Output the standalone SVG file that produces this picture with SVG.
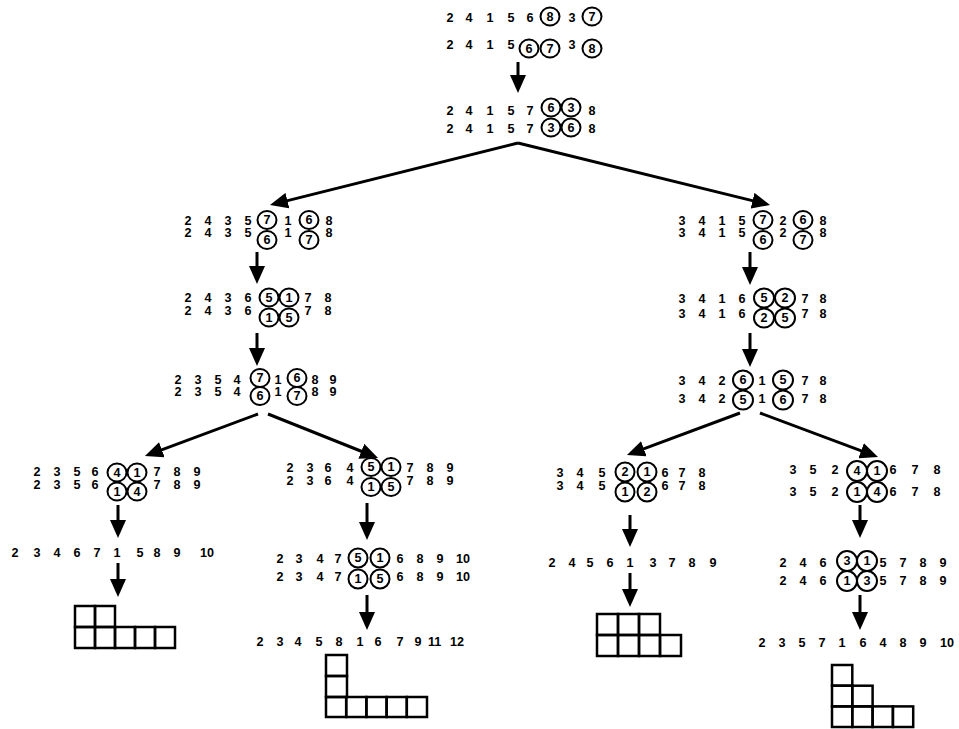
<svg xmlns="http://www.w3.org/2000/svg" width="959" height="729" viewBox="0 0 959 729">
<defs>
<style>
.d{font-family:"Liberation Sans",Arial,sans-serif;font-weight:bold;font-size:12.6px;fill:#000}
.c{fill:none;stroke:#000;stroke-width:2}
.a{stroke:#000;stroke-width:3;fill:none;marker-end:url(#ah)}
.b{fill:none;stroke:#000;stroke-width:2.5}
</style>
<marker id="ah" markerUnits="userSpaceOnUse" markerWidth="18" markerHeight="16" refX="6" refY="8" orient="auto"><path d="M0,0 L18,8 L0,16 Z" fill="#000"/></marker>
</defs>
<rect width="959" height="729" fill="#fff"/>

<g id="top-a">
<text class="d" y="22"><tspan x="446.5">2</tspan> <tspan x="465.5">4</tspan> <tspan x="486.5">1</tspan> <tspan x="507.5">5</tspan> <tspan x="526.5">6</tspan> <tspan x="546.5" y="20.8">8</tspan> <tspan x="568.5" y="22">3</tspan> <tspan x="588.5" y="20.8">7</tspan></text>
<ellipse class="c" cx="550" cy="16.5" rx="9.5" ry="9"/><ellipse class="c" cx="592" cy="16.5" rx="9.5" ry="9"/>
<text class="d" y="49"><tspan x="446.5">2</tspan> <tspan x="465.5">4</tspan> <tspan x="486.5">1</tspan> <tspan x="507.5">5</tspan> <tspan x="525.5" y="52.8">6</tspan> <tspan x="546.5">7</tspan> <tspan x="568.5" y="49">3</tspan> <tspan x="588.5" y="52.8">8</tspan></text>
<ellipse class="c" cx="529" cy="48.5" rx="9.5" ry="9"/><ellipse class="c" cx="550" cy="48.5" rx="9.5" ry="9"/><ellipse class="c" cx="592" cy="48.5" rx="9.5" ry="9"/>
</g>

<g id="top-b">
<text class="d" y="115"><tspan x="446.5">2</tspan> <tspan x="465.5">4</tspan> <tspan x="486.5">1</tspan> <tspan x="507.5">5</tspan> <tspan x="526.5">7</tspan> <tspan x="547.5" y="111.8">6</tspan> <tspan x="567.5">3</tspan> <tspan x="588.5" y="115">8</tspan></text>
<ellipse class="c" cx="551" cy="107.5" rx="9.5" ry="9"/><ellipse class="c" cx="571" cy="107.5" rx="9.5" ry="9"/>
<text class="d" y="133"><tspan x="446.5">2</tspan> <tspan x="465.5">4</tspan> <tspan x="486.5">1</tspan> <tspan x="507.5">5</tspan> <tspan x="526.5">7</tspan> <tspan x="547.5" y="131.8">3</tspan> <tspan x="567.5">6</tspan> <tspan x="588.5" y="133">8</tspan></text>
<ellipse class="c" cx="551" cy="127.5" rx="9.5" ry="9"/><ellipse class="c" cx="571" cy="127.5" rx="9.5" ry="9"/>
</g>

<g id="left-a">
<text class="d" y="225"><tspan x="184.5">2</tspan> <tspan x="204.5">4</tspan> <tspan x="224.5">3</tspan> <tspan x="244.5">5</tspan> <tspan x="263.5" y="224.3">7</tspan> <tspan x="284.5" y="225">1</tspan> <tspan x="305.5" y="224.3">6</tspan> <tspan x="325.5" y="225">8</tspan></text>
<ellipse class="c" cx="267" cy="220" rx="9.5" ry="9"/><ellipse class="c" cx="309" cy="220" rx="9.5" ry="9"/>
<text class="d" y="237"><tspan x="184.5">2</tspan> <tspan x="204.5">4</tspan> <tspan x="224.5">3</tspan> <tspan x="244.5">5</tspan> <tspan x="263.5" y="244.3">6</tspan> <tspan x="284.5" y="237">1</tspan> <tspan x="305.5" y="244.3">7</tspan> <tspan x="325.5" y="237">8</tspan></text>
<ellipse class="c" cx="267" cy="240" rx="9.5" ry="9"/><ellipse class="c" cx="309" cy="240" rx="9.5" ry="9"/>
</g>

<g id="left-b">
<text class="d" y="302"><tspan x="184.5">2</tspan> <tspan x="204.5">4</tspan> <tspan x="224.5">3</tspan> <tspan x="244.5">6</tspan> <tspan x="265.5" y="301.8">5</tspan> <tspan x="285.5">1</tspan> <tspan x="304.5" y="302">7</tspan> <tspan x="324.5">8</tspan></text>
<ellipse class="c" cx="269" cy="297.5" rx="9.5" ry="9"/><ellipse class="c" cx="289" cy="297.5" rx="9.5" ry="9"/>
<text class="d" y="315"><tspan x="184.5">2</tspan> <tspan x="204.5">4</tspan> <tspan x="224.5">3</tspan> <tspan x="244.5">6</tspan> <tspan x="265.5" y="321.8">1</tspan> <tspan x="285.5">5</tspan> <tspan x="304.5" y="315">7</tspan> <tspan x="324.5">8</tspan></text>
<ellipse class="c" cx="269" cy="317.5" rx="9.5" ry="9"/><ellipse class="c" cx="289" cy="317.5" rx="9.5" ry="9"/>
</g>

<g id="left-c">
<text class="d" y="384"><tspan x="174.5">2</tspan> <tspan x="194.5">3</tspan> <tspan x="214.5">5</tspan> <tspan x="233.5">4</tspan> <tspan x="256.5" y="382.3">7</tspan> <tspan x="274.5" y="384">1</tspan> <tspan x="293.5" y="382.3">6</tspan> <tspan x="311.5" y="384">8</tspan> <tspan x="329.5">9</tspan></text>
<ellipse class="c" cx="260" cy="378" rx="9.5" ry="9"/><ellipse class="c" cx="297" cy="378" rx="9.5" ry="9"/>
<text class="d" y="396"><tspan x="174.5">2</tspan> <tspan x="194.5">3</tspan> <tspan x="214.5">5</tspan> <tspan x="233.5">4</tspan> <tspan x="256.5" y="400.3">6</tspan> <tspan x="274.5" y="396">1</tspan> <tspan x="293.5" y="400.3">7</tspan> <tspan x="311.5" y="396">8</tspan> <tspan x="329.5">9</tspan></text>
<ellipse class="c" cx="260" cy="396" rx="9.5" ry="9"/><ellipse class="c" cx="297" cy="396" rx="9.5" ry="9"/>
</g>

<g id="ll-a">
<text class="d" y="476"><tspan x="33.5">2</tspan> <tspan x="53.5">3</tspan> <tspan x="73.5">5</tspan> <tspan x="91.5">6</tspan> <tspan x="113.5" y="476.8">4</tspan> <tspan x="133.5">1</tspan> <tspan x="153.5" y="476">7</tspan> <tspan x="173.5">8</tspan> <tspan x="193.5">9</tspan></text>
<ellipse class="c" cx="117" cy="472.5" rx="9.5" ry="9"/><ellipse class="c" cx="137" cy="472.5" rx="9.5" ry="9"/>
<text class="d" y="489"><tspan x="33.5">2</tspan> <tspan x="53.5">3</tspan> <tspan x="73.5">5</tspan> <tspan x="91.5">6</tspan> <tspan x="113.5" y="495.8">1</tspan> <tspan x="133.5">4</tspan> <tspan x="153.5" y="489">7</tspan> <tspan x="173.5">8</tspan> <tspan x="193.5">9</tspan></text>
<ellipse class="c" cx="117" cy="491.5" rx="9.5" ry="9"/><ellipse class="c" cx="137" cy="491.5" rx="9.5" ry="9"/>
</g>

<g id="ll-b">
<text class="d" y="557"><tspan x="11.5">2</tspan> <tspan x="33.5">3</tspan> <tspan x="53.5">4</tspan> <tspan x="73.5">6</tspan> <tspan x="93.5">7</tspan> <tspan x="113.5">1</tspan> <tspan x="136.5">5</tspan> <tspan x="153.5">8</tspan> <tspan x="173.5">9</tspan> <tspan x="200">10</tspan></text>
</g>

<g id="ll-shape">
<rect class="b" x="75" y="606" width="20" height="21"/><rect class="b" x="95" y="606" width="20" height="21"/>
<rect class="b" x="75" y="627" width="20" height="21"/><rect class="b" x="95" y="627" width="20" height="21"/><rect class="b" x="115" y="627" width="20" height="21"/><rect class="b" x="135" y="627" width="20" height="21"/><rect class="b" x="155" y="627" width="20" height="21"/>
</g>

<g id="lr-a">
<text class="d" y="472"><tspan x="286.5">2</tspan> <tspan x="306.5">3</tspan> <tspan x="324.5">6</tspan> <tspan x="346.5">4</tspan> <tspan x="367.5" y="471.3">5</tspan> <tspan x="387.5">1</tspan> <tspan x="406.5" y="472">7</tspan> <tspan x="426.5">8</tspan> <tspan x="446.5">9</tspan></text>
<ellipse class="c" cx="371" cy="467" rx="9.5" ry="9"/><ellipse class="c" cx="391" cy="467" rx="9.5" ry="9"/>
<text class="d" y="485"><tspan x="286.5">2</tspan> <tspan x="306.5">3</tspan> <tspan x="324.5">6</tspan> <tspan x="346.5">4</tspan> <tspan x="367.5" y="491.3">1</tspan> <tspan x="387.5">5</tspan> <tspan x="406.5" y="485">7</tspan> <tspan x="426.5">8</tspan> <tspan x="446.5">9</tspan></text>
<ellipse class="c" cx="371" cy="487" rx="9.5" ry="9"/><ellipse class="c" cx="391" cy="487" rx="9.5" ry="9"/>
</g>

<g id="lr-b">
<text class="d" y="563"><tspan x="276.5">2</tspan> <tspan x="295.5">3</tspan> <tspan x="316.5">4</tspan> <tspan x="334.5">7</tspan> <tspan x="354.5" y="562.3">5</tspan> <tspan x="376.5">1</tspan> <tspan x="396.5" y="563">6</tspan> <tspan x="416.5">8</tspan> <tspan x="436.5">9</tspan> <tspan x="456">10</tspan></text>
<ellipse class="c" cx="358" cy="558" rx="9.5" ry="9.5"/><ellipse class="c" cx="380" cy="558" rx="9.5" ry="9.5"/>
<text class="d" y="581"><tspan x="276.5">2</tspan> <tspan x="295.5">3</tspan> <tspan x="316.5">4</tspan> <tspan x="334.5">7</tspan> <tspan x="354.5" y="583.3">1</tspan> <tspan x="376.5">5</tspan> <tspan x="396.5" y="581">6</tspan> <tspan x="416.5">8</tspan> <tspan x="436.5">9</tspan> <tspan x="456">10</tspan></text>
<ellipse class="c" cx="358" cy="579" rx="9.5" ry="9.5"/><ellipse class="c" cx="380" cy="579" rx="9.5" ry="9.5"/>
</g>

<g id="lr-c">
<text class="d" y="646"><tspan x="256.5">2</tspan> <tspan x="276.5">3</tspan> <tspan x="294.5">4</tspan> <tspan x="315.5">5</tspan> <tspan x="335.5">8</tspan> <tspan x="356.5">1</tspan> <tspan x="374.5">6</tspan> <tspan x="396.5">7</tspan> <tspan x="414.5">9</tspan> <tspan x="428">11</tspan> <tspan x="450">12</tspan></text>
</g>

<g id="lr-shape">
<rect class="b" x="326" y="655" width="21" height="21"/><rect class="b" x="326" y="676" width="21" height="21"/>
<rect class="b" x="326" y="697" width="20.2" height="20"/><rect class="b" x="346.2" y="697" width="20.2" height="20"/><rect class="b" x="366.4" y="697" width="20.2" height="20"/><rect class="b" x="386.6" y="697" width="20.2" height="20"/><rect class="b" x="406.8" y="697" width="20.2" height="20"/>
</g>

<g id="right-a">
<text class="d" y="225"><tspan x="678.5">3</tspan> <tspan x="698.5">4</tspan> <tspan x="718.5">1</tspan> <tspan x="738.5">5</tspan> <tspan x="759.5" y="224.3">7</tspan> <tspan x="779.5" y="225">2</tspan> <tspan x="799.5" y="224.3">6</tspan> <tspan x="819.5" y="225">8</tspan></text>
<ellipse class="c" cx="763" cy="220" rx="9.5" ry="9"/><ellipse class="c" cx="803" cy="220" rx="9.5" ry="9"/>
<text class="d" y="237"><tspan x="678.5">3</tspan> <tspan x="698.5">4</tspan> <tspan x="718.5">1</tspan> <tspan x="738.5">5</tspan> <tspan x="759.5" y="244.3">6</tspan> <tspan x="779.5" y="237">2</tspan> <tspan x="799.5" y="244.3">7</tspan> <tspan x="819.5" y="237">8</tspan></text>
<ellipse class="c" cx="763" cy="240" rx="9.5" ry="9"/><ellipse class="c" cx="803" cy="240" rx="9.5" ry="9"/>
</g>

<g id="right-b">
<text class="d" y="303"><tspan x="678.5">3</tspan> <tspan x="698.5">4</tspan> <tspan x="718.5">1</tspan> <tspan x="738.5">6</tspan> <tspan x="760.5" y="302.3">5</tspan> <tspan x="781.5">2</tspan> <tspan x="801.5" y="303">7</tspan> <tspan x="819.5">8</tspan></text>
<ellipse class="c" cx="764" cy="298" rx="10" ry="9.5"/><ellipse class="c" cx="785" cy="298" rx="10" ry="9.5"/>
<text class="d" y="318"><tspan x="678.5">3</tspan> <tspan x="698.5">4</tspan> <tspan x="718.5">1</tspan> <tspan x="738.5">6</tspan> <tspan x="760.5" y="322.3">2</tspan> <tspan x="781.5">5</tspan> <tspan x="801.5" y="318">7</tspan> <tspan x="819.5">8</tspan></text>
<ellipse class="c" cx="764" cy="318" rx="10" ry="9.5"/><ellipse class="c" cx="785" cy="318" rx="10" ry="9.5"/>
</g>

<g id="right-c">
<text class="d" y="385"><tspan x="678.5">3</tspan> <tspan x="698.5">4</tspan> <tspan x="718.5">2</tspan> <tspan x="739.5" y="384.3">6</tspan> <tspan x="758.5" y="385">1</tspan> <tspan x="779.5" y="384.3">5</tspan> <tspan x="801.5" y="385">7</tspan> <tspan x="819.5">8</tspan></text>
<ellipse class="c" cx="743" cy="380" rx="10" ry="9.5"/><ellipse class="c" cx="783" cy="380" rx="10" ry="9.5"/>
<text class="d" y="403"><tspan x="678.5">3</tspan> <tspan x="698.5">4</tspan> <tspan x="718.5">2</tspan> <tspan x="739.5" y="404.3">5</tspan> <tspan x="758.5" y="403">1</tspan> <tspan x="779.5" y="404.3">6</tspan> <tspan x="801.5" y="403">7</tspan> <tspan x="819.5">8</tspan></text>
<ellipse class="c" cx="743" cy="400" rx="10" ry="9.5"/><ellipse class="c" cx="783" cy="400" rx="10" ry="9.5"/>
</g>

<g id="rl-a">
<text class="d" y="477"><tspan x="556.5">3</tspan> <tspan x="576.5">4</tspan> <tspan x="598.5">5</tspan> <tspan x="621.5" y="476.3">2</tspan> <tspan x="643.5">1</tspan> <tspan x="661.5" y="477">6</tspan> <tspan x="678.5">7</tspan> <tspan x="698.5">8</tspan></text>
<ellipse class="c" cx="625" cy="472" rx="9.5" ry="9.5"/><ellipse class="c" cx="647" cy="472" rx="9.5" ry="9.5"/>
<text class="d" y="490"><tspan x="556.5">3</tspan> <tspan x="576.5">4</tspan> <tspan x="598.5">5</tspan> <tspan x="621.5" y="496.3">1</tspan> <tspan x="643.5">2</tspan> <tspan x="661.5" y="490">6</tspan> <tspan x="678.5">7</tspan> <tspan x="698.5">8</tspan></text>
<ellipse class="c" cx="625" cy="492" rx="9.5" ry="9.5"/><ellipse class="c" cx="647" cy="492" rx="9.5" ry="9.5"/>
</g>

<g id="rl-b">
<text class="d" y="567"><tspan x="548.5">2</tspan> <tspan x="568.5">4</tspan> <tspan x="586.5">5</tspan> <tspan x="606.5">6</tspan> <tspan x="626.5">1</tspan> <tspan x="649.5">3</tspan> <tspan x="668.5">7</tspan> <tspan x="688.5">8</tspan> <tspan x="709.5">9</tspan></text>
</g>

<g id="rl-shape">
<rect class="b" x="597" y="614" width="21" height="21"/><rect class="b" x="618" y="614" width="21" height="21"/><rect class="b" x="639" y="614" width="21" height="21"/>
<rect class="b" x="597" y="635" width="21" height="21"/><rect class="b" x="618" y="635" width="21" height="21"/><rect class="b" x="639" y="635" width="21" height="21"/><rect class="b" x="660" y="635" width="21" height="21"/>
</g>

<g id="rr-a">
<text class="d" y="474"><tspan x="789.5">3</tspan> <tspan x="809.5">5</tspan> <tspan x="831.5">2</tspan> <tspan x="853.5" y="475.3">4</tspan> <tspan x="873.5">1</tspan> <tspan x="889.5" y="474">6</tspan> <tspan x="911.5">7</tspan> <tspan x="933.5">8</tspan></text>
<ellipse class="c" cx="857" cy="471" rx="10" ry="10"/><ellipse class="c" cx="877" cy="471" rx="10" ry="10"/>
<text class="d" y="496"><tspan x="789.5">3</tspan> <tspan x="809.5">5</tspan> <tspan x="831.5">2</tspan> <tspan x="853.5">1</tspan> <tspan x="873.5">4</tspan> <tspan x="889.5">6</tspan> <tspan x="911.5">7</tspan> <tspan x="933.5">8</tspan></text>
<ellipse class="c" cx="857" cy="492" rx="10" ry="10"/><ellipse class="c" cx="877" cy="492" rx="10" ry="10"/>
</g>

<g id="rr-b">
<text class="d" y="567"><tspan x="779.5">2</tspan> <tspan x="799.5">4</tspan> <tspan x="819.5">6</tspan> <tspan x="843.5" y="565.3">3</tspan> <tspan x="863.5">1</tspan> <tspan x="879.5" y="567">5</tspan> <tspan x="899.5">7</tspan> <tspan x="919.5">8</tspan> <tspan x="939.5">9</tspan></text>
<ellipse class="c" cx="847" cy="561" rx="10" ry="10"/><ellipse class="c" cx="867" cy="561" rx="10" ry="10"/>
<text class="d" y="585"><tspan x="779.5">2</tspan> <tspan x="799.5">4</tspan> <tspan x="819.5">6</tspan> <tspan x="843.5">1</tspan> <tspan x="863.5">3</tspan> <tspan x="879.5">5</tspan> <tspan x="899.5">7</tspan> <tspan x="919.5">8</tspan> <tspan x="939.5">9</tspan></text>
<ellipse class="c" cx="847" cy="581" rx="10" ry="10"/><ellipse class="c" cx="867" cy="581" rx="10" ry="10"/>
</g>

<g id="rr-c">
<text class="d" y="647"><tspan x="758.5">2</tspan> <tspan x="778.5">3</tspan> <tspan x="798.5">5</tspan> <tspan x="818.5">7</tspan> <tspan x="838.5">1</tspan> <tspan x="859.5">6</tspan> <tspan x="879.5">4</tspan> <tspan x="899.5">8</tspan> <tspan x="919.5">9</tspan> <tspan x="940">10</tspan></text>
</g>

<g id="rr-shape">
<rect class="b" x="832" y="665" width="20.3" height="20.7"/>
<rect class="b" x="832" y="685.7" width="20.3" height="20.7"/><rect class="b" x="852.3" y="685.7" width="20.3" height="20.7"/>
<rect class="b" x="832" y="706.4" width="20.3" height="20.6"/><rect class="b" x="852.3" y="706.4" width="20.3" height="20.6"/><rect class="b" x="872.6" y="706.4" width="20.3" height="20.6"/><rect class="b" x="892.9" y="706.4" width="20.3" height="20.6"/>
</g>

<g id="connectors">
<line class="a" x1="518" y1="62" x2="518" y2="81"/>
<line class="a" x1="518" y1="143" x2="281.6" y2="202.1"/>
<line class="a" x1="518" y1="143" x2="758.4" y2="202.1"/>
<line class="a" x1="257" y1="252" x2="257" y2="272"/>
<line class="a" x1="257" y1="333" x2="257" y2="354"/>
<line class="a" x1="258" y1="414" x2="156.2" y2="451.8"/>
<line class="a" x1="268" y1="414" x2="366.9" y2="453.5"/>
<line class="a" x1="118" y1="505" x2="118" y2="526"/>
<line class="a" x1="118" y1="563" x2="118" y2="585"/>
<line class="a" x1="367" y1="503" x2="367" y2="528"/>
<line class="a" x1="367" y1="595" x2="367" y2="618"/>
<line class="a" x1="750" y1="252" x2="750" y2="273"/>
<line class="a" x1="750" y1="333" x2="750" y2="355"/>
<line class="a" x1="740" y1="413" x2="638.2" y2="450.8"/>
<line class="a" x1="760" y1="413" x2="866.75" y2="452.8"/>
<line class="a" x1="630" y1="515" x2="630" y2="535"/>
<line class="a" x1="630" y1="573" x2="630" y2="595"/>
<line class="a" x1="860" y1="505" x2="860" y2="526"/>
<line class="a" x1="860" y1="595" x2="860" y2="618"/>
</g>
</svg>
